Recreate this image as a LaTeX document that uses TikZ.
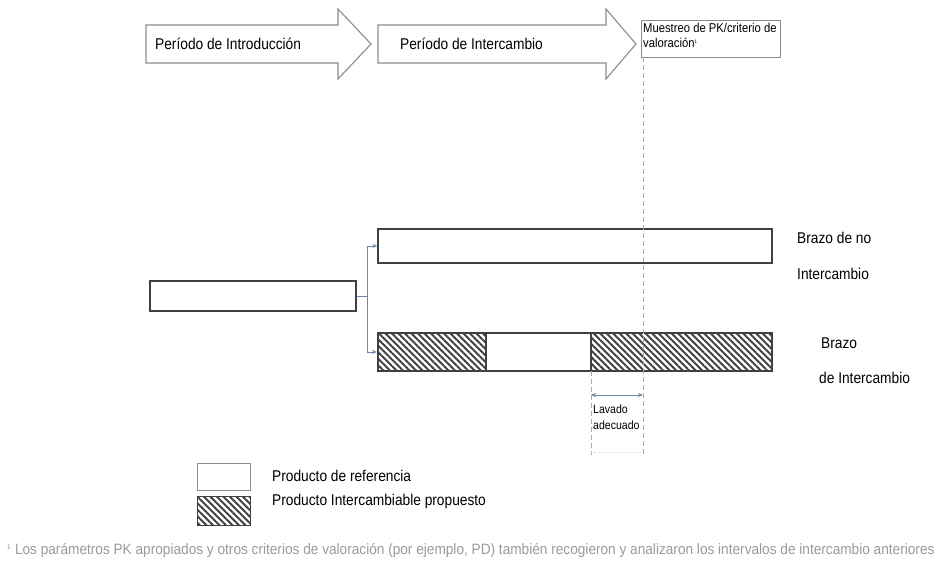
\documentclass[tikz,border=0pt]{standalone}
\usepackage{fontspec}
\setmainfont{Liberation Sans}[FakeStretch=0.88]
\newfontfamily\footfont{Liberation Sans}[FakeStretch=0.91]
\usetikzlibrary{patterns.meta,arrows.meta}
\definecolor{boxline}{HTML}{404040}
\definecolor{arrline}{HTML}{8C8C8C}
\definecolor{conn}{HTML}{6F86A8}
\definecolor{dashc}{HTML}{A8A8A8}
\definecolor{foot}{HTML}{9A9A9A}
\tikzset{
  blockarrow/.style={draw=arrline, line width=1.1pt, fill=white},
  bar/.style={draw=boxline, line width=1.4pt, rectangle, inner sep=0pt, fill=white},
  hatched/.style={bar, pattern={Lines[angle=-45,distance=4.6pt,line width=2pt]}, pattern color=boxline},
  lbl/.style={anchor=west, inner sep=0pt, font=\fontsize{15.6}{18}\selectfont},
  small/.style={anchor=west, inner sep=0pt, font=\fontsize{12}{14}\selectfont},
  guide/.style={draw=dashc, line width=0.8pt, dash pattern=on 5pt off 3pt},
  link/.style={draw=conn, line width=0.8pt, -{Stealth[length=5pt,width=4pt]}},
}
\begin{document}
\begin{tikzpicture}[x=1pt,y=-1pt]
\useasboundingbox (0,0) rectangle (942,566);
% block arrows
\draw[blockarrow] (146,25) -- (338,25) -- (338,9) -- (371,44) -- (338,79) -- (338,63) -- (146,63) -- cycle;
\draw[blockarrow] (378,25) -- (606,25) -- (606,9) -- (636,44) -- (606,79) -- (606,63) -- (378,63) -- cycle;
\node[lbl] (intro) at (155,44) {Período de Introducción};
\node[lbl] (inter) at (400,44) {Período de Intercambio};
% sampling box
\node[bar, draw=arrline, line width=1.1pt, minimum width=139pt, minimum height=37pt, anchor=north west] (samp) at (641,20) {};
\node[anchor=north west, inner sep=0pt, align=left, font=\fontsize{12.8}{15}\selectfont] (samptxt) at (643,23) {Muestreo de PK/criterio de\\valoración\textsuperscript{\tiny 1}};
\coordinate (d1top) at (643,57);
\coordinate (d1bot) at (643,455);
\draw[guide] (d1top) -- (d1bot);
% left box and arms
\node[bar, minimum width=206pt, minimum height=30pt] (run) at (253,296) {};
\node[bar, minimum width=394pt, minimum height=34pt] (noarm) at (575,246) {};
\node[hatched, minimum width=108pt, minimum height=38pt] (s1) at (432,352) {};
\node[bar, minimum width=105pt, minimum height=38pt] (s2) at (538.5,352) {};
\node[hatched, minimum width=181pt, minimum height=38pt] (s3) at (681.5,352) {};
\draw[guide] (d1top) -- (d1bot);
\coordinate (j) at (367,296);
\draw[draw=conn, line width=0.8pt] (run.east) -- (j);
\draw[link] (j) |- (noarm.west);
\draw[link] (j) |- (s1.west);
% arm labels
\node[lbl] (b1) at (797,238) {Brazo de no};
\node[lbl] (b2) at (797,274) {Intercambio};
\node[lbl] (b3) at (821,343) {Brazo};
\node[lbl] (b4) at (819,378) {de Intercambio};
% washout
\coordinate (w0) at (591,371);
\coordinate (w0b) at (591,455);
\draw[guide] (w0) -- (w0b);
\coordinate (w1) at (591,395);
\coordinate (w2) at (643,395);
\draw[draw=conn, line width=0.8pt, {Stealth[length=5pt,width=4pt]}-{Stealth[length=5pt,width=4pt]}] (w1) -- (w2);
\node[small] (lav) at (593,409) {Lavado};
\node[small] (ade) at (593,425) {adecuado};
\coordinate (f1) at (591,452);
\coordinate (f2) at (643,452);
\draw[draw=dashc!60, line width=0.6pt, dotted] (f1) -- (f2);
% legend
\node[bar, draw=arrline, minimum width=53pt, minimum height=27pt, anchor=north west] (lg1) at (197,463) {};
\node[hatched, minimum width=53pt, minimum height=29pt, anchor=north west] (lg2) at (197,496) {};
\node[lbl] (lt1) at (272,476) {Producto de referencia};
\node[lbl] (lt2) at (272,501) {Producto Intercambiable propuesto};
% footnote
\node[anchor=west, inner sep=0pt, text=foot, font=\footfont\fontsize{15}{18}\selectfont] (fn) at (7,551) {\textsuperscript{\scriptsize 1} Los parámetros PK apropiados y otros criterios de valoración (por ejemplo, PD) también recogieron y analizaron los intervalos de intercambio anteriores};
\end{tikzpicture}
\end{document}
